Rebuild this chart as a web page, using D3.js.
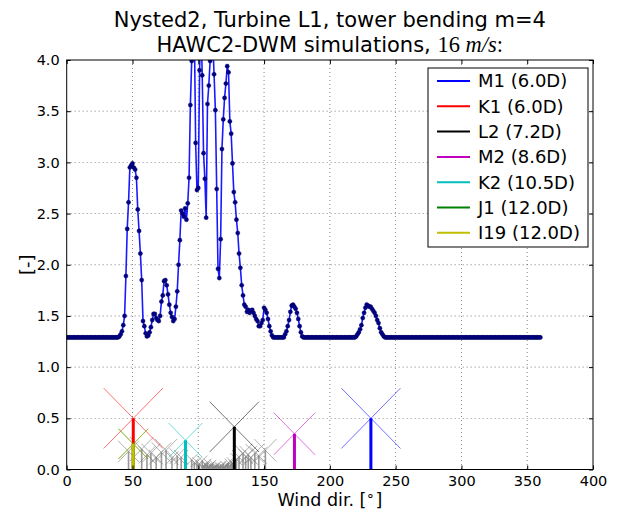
<!DOCTYPE html>
<html><head><meta charset="utf-8">
<script src="https://cdn.jsdelivr.net/npm/d3@7"></script>
<style>body{margin:0;background:#fff}svg{display:block}</style>
</head><body>
<svg id="chart" width="624" height="510"></svg>
<script>
// ---- data ----
const titleLine1 = "Nysted2, Turbine L1, tower bending m=4";
const xLabel = "Wind dir. [";
const yLabel = "[-]";
const xTicks = [0, 50, 100, 150, 200, 250, 300, 350, 400];
const yTicks = [0.0, 0.5, 1.0, 1.5, 2.0, 2.5, 3.0, 3.5, 4.0];
const dirStart = 0, dirStep = 1;
// tower bending load per wind direction (1 deg steps, 0..360)
const loadValues = [
 1.29,1.29,1.29,1.29,1.29,1.29,1.29,1.29,1.29,1.29, // 0
 1.29,1.29,1.29,1.29,1.29,1.29,1.29,1.29,1.29,1.29, // 10
 1.29,1.29,1.29,1.29,1.29,1.29,1.29,1.29,1.29,1.29, // 20
 1.29,1.29,1.29,1.29,1.29,1.29,1.29,1.29,1.29,1.29, // 30
 1.30,1.32,1.35,1.41,1.50,1.89,2.35,2.61,2.95,2.97, // 40
 2.99,2.95,2.93,2.85,2.54,2.33,2.11,1.85,1.45,1.40, // 50
 1.33,1.30,1.31,1.34,1.39,1.46,1.52,1.52,1.48,1.46, // 60
 1.45,1.50,1.64,1.70,1.84,1.85,1.80,1.71,1.61,1.53, // 70
 1.49,1.45,1.47,1.59,1.74,2.00,2.24,2.53,2.50,2.47, // 80
 2.55,2.44,2.60,2.85,3.56,3.99,4.60,4.30,3.19,2.73, // 90
 2.75,3.90,4.40,3.85,3.09,2.84,2.46,3.57,3.75,3.99, // 100
 4.60,4.20,3.86,3.51,2.74,1.96,1.87,2.25,3.13,3.42, // 110
 3.63,3.77,3.94,3.88,3.40,3.28,2.99,2.71,2.61,2.44, // 120
 2.31,2.11,1.97,1.80,1.70,1.61,1.59,1.54,1.56,1.53, // 130
 1.55,1.56,1.53,1.50,1.47,1.45,1.40,1.40,1.43,1.46, // 140
 1.58,1.56,1.53,1.47,1.40,1.35,1.31,1.29,1.29,1.29, // 150
 1.29,1.29,1.29,1.29,1.29,1.29,1.32,1.35,1.40,1.46, // 160
 1.54,1.60,1.61,1.59,1.57,1.53,1.47,1.40,1.34,1.30, // 170
 1.29,1.29,1.29,1.29,1.29,1.29,1.29,1.29,1.29,1.29, // 180
 1.29,1.29,1.29,1.29,1.29,1.29,1.29,1.29,1.29,1.29, // 190
 1.29,1.29,1.29,1.29,1.29,1.29,1.29,1.29,1.29,1.29, // 200
 1.29,1.29,1.29,1.29,1.29,1.29,1.29,1.29,1.29,1.29, // 210
 1.30,1.32,1.34,1.37,1.41,1.48,1.53,1.58,1.61,1.60, // 220
 1.59,1.59,1.57,1.55,1.53,1.50,1.46,1.43,1.38,1.34, // 230
 1.32,1.30,1.29,1.29,1.29,1.29,1.29,1.29,1.29,1.29, // 240
 1.29,1.29,1.29,1.29,1.29,1.29,1.29,1.29,1.29,1.29, // 250
 1.29,1.29,1.29,1.29,1.29,1.29,1.29,1.29,1.29,1.29, // 260
 1.29,1.29,1.29,1.29,1.29,1.29,1.29,1.29,1.29,1.29, // 270
 1.29,1.29,1.29,1.29,1.29,1.29,1.29,1.29,1.29,1.29, // 280
 1.29,1.29,1.29,1.29,1.29,1.29,1.29,1.29,1.29,1.29, // 290
 1.29,1.29,1.29,1.29,1.29,1.29,1.29,1.29,1.29,1.29, // 300
 1.29,1.29,1.29,1.29,1.29,1.29,1.29,1.29,1.29,1.29, // 310
 1.29,1.29,1.29,1.29,1.29,1.29,1.29,1.29,1.29,1.29, // 320
 1.29,1.29,1.29,1.29,1.29,1.29,1.29,1.29,1.29,1.29, // 330
 1.29,1.29,1.29,1.29,1.29,1.29,1.29,1.29,1.29,1.29, // 340
 1.29,1.29,1.29,1.29,1.29,1.29,1.29,1.29,1.29,1.29, // 350
 1.29                                                // 360
];
// upstream turbines (legend)
const turbNames  = ["M1", "K1", "L2", "M2", "K2", "J1", "I19"];
const turbDists  = [6.0, 6.0, 7.2, 8.6, 10.5, 12.0, 12.0];
const turbDirs   = [231.2, 50.6, 127.4, 173.1, 90.3, 50.6, 50.6];
const turbColors = ["#0000ff", "#ff0000", "#000000", "#bf00bf", "#00bfbf", "#008000", "#bfbf00"];
// other (far) turbines in grey
const greyDirs  = [47, 57, 61, 64, 68, 72, 75.5, 80, 84, 87, 95, 97, 99, 101, 103, 104, 105, 106, 107, 108, 109, 110, 111, 112, 113, 114, 115, 116, 117, 118, 119, 120, 121, 122, 123, 124, 125, 126, 129, 131, 134, 136, 138, 140, 143, 146, 151];
const greyDists = [17, 15, 21, 19, 25, 18, 16, 27, 23, 25, 32, 45, 40, 55, 35, 80, 60, 70, 45, 95, 75, 60, 50, 110, 90, 70, 65, 100, 80, 85, 55, 120, 70, 60, 45, 90, 40, 50, 30, 25, 19, 24, 21, 26, 19, 22, 16];

// ---- layout ----
const svg = d3.select("#chart");
const L = 66.7, R = 593, T = 60, B = 469.5;
const x = d3.scaleLinear().domain([0, 400]).range([L, R]);
const y = d3.scaleLinear().domain([0, 4]).range([B, T]);
const font = "'DejaVu Sans', sans-serif";

svg.append("defs").append("clipPath").attr("id", "clip")
  .append("rect").attr("x", L).attr("y", T).attr("width", R - L).attr("height", B - T);

// grid
const grid = svg.append("g");
xTicks.slice(1, -1).forEach(t => grid.append("line")
  .attr("x1", x(t)).attr("x2", x(t)).attr("y1", T).attr("y2", B)
  .attr("stroke", "#000").attr("stroke-width", 0.6).attr("stroke-dasharray", "1,3").attr("opacity", 0.8));
yTicks.slice(1, -1).forEach(t => grid.append("line")
  .attr("x1", L).attr("x2", R).attr("y1", y(t)).attr("y2", y(t))
  .attr("stroke", "#000").attr("stroke-width", 0.6).attr("stroke-dasharray", "1,3").attr("opacity", 0.8));

const plot = svg.append("g").attr("clip-path", "url(#clip)");

// turbines
function drawTurbine(g, dir, dist, color, towerW, xOpacity, towerOpacity) {
  const hub = 3 / dist;            // hub height in load units
  const ax = 45 * hub, ay = 0.59 * hub;
  g.append("line").attr("x1", x(dir - ax)).attr("y1", y(hub + ay)).attr("x2", x(dir + ax)).attr("y2", y(hub - ay))
    .attr("stroke", color).attr("stroke-width", 1).attr("opacity", xOpacity);
  g.append("line").attr("x1", x(dir - ax)).attr("y1", y(hub - ay)).attr("x2", x(dir + ax)).attr("y2", y(hub + ay))
    .attr("stroke", color).attr("stroke-width", 1).attr("opacity", xOpacity);
  g.append("line").attr("x1", x(dir)).attr("y1", y(0)).attr("x2", x(dir)).attr("y2", y(hub))
    .attr("stroke", color).attr("stroke-width", towerW).attr("opacity", towerOpacity);
}
const tg = plot.append("g");
greyDirs.forEach((d, i) => drawTurbine(tg, d, greyDists[i], "#808080", 1.6, 0.6, 0.8));
turbDirs.forEach((d, i) => drawTurbine(tg, d, turbDists[i], turbColors[i], 3, 0.55, 1));

// curve
const pts = loadValues.map((v, i) => [dirStart + i * dirStep, v]);
plot.append("path").datum(pts)
  .attr("d", d3.line().x(d => x(d[0])).y(d => y(d[1])))
  .attr("fill", "none").attr("stroke", "#0000ff").attr("stroke-width", 1.6).attr("opacity", 0.9);
plot.append("g").selectAll("circle").data(pts).join("circle")
  .attr("cx", d => x(d[0])).attr("cy", d => y(d[1])).attr("r", 2.1)
  .attr("fill", "#00008b").attr("stroke", "#000050").attr("stroke-width", 0.4);

// axes (inward ticks all around)
function styleAxis(g) {
  g.selectAll(".domain").remove();
  g.selectAll("text").attr("font-family", font).attr("font-size", 14.5).attr("fill", "#000");
  g.selectAll("line").attr("stroke", "#000");
}
svg.append("g").attr("transform", `translate(0,${B})`)
  .call(d3.axisBottom(x).tickValues(xTicks).tickFormat(d3.format("d")).tickSizeInner(-4).tickSizeOuter(0).tickPadding(6))
  .call(styleAxis);
svg.append("g").attr("transform", `translate(0,${T})`)
  .call(d3.axisTop(x).tickValues(xTicks).tickFormat("").tickSizeInner(-4).tickSizeOuter(0))
  .call(styleAxis);
svg.append("g").attr("transform", `translate(${L},0)`)
  .call(d3.axisLeft(y).tickValues(yTicks).tickFormat(d3.format(".1f")).tickSizeInner(-4).tickSizeOuter(0).tickPadding(7))
  .call(styleAxis);
svg.append("g").attr("transform", `translate(${R},0)`)
  .call(d3.axisRight(y).tickValues(yTicks).tickFormat("").tickSizeInner(-4).tickSizeOuter(0))
  .call(styleAxis);
svg.append("rect").attr("x", L).attr("y", T).attr("width", R - L).attr("height", B - T)
  .attr("fill", "none").attr("stroke", "#000").attr("stroke-width", 1);

// titles
const cx = (L + R) / 2;
svg.append("text").attr("x", cx).attr("y", 26.5).attr("text-anchor", "middle")
  .attr("font-family", font).attr("font-size", 21).text(titleLine1);
const t2 = svg.append("text").attr("x", cx).attr("y", 51.5).attr("text-anchor", "middle")
  .attr("font-family", font).attr("font-size", 21);
t2.append("tspan").text("HAWC2-DWM simulations, ");
t2.append("tspan").attr("font-family", "'Liberation Serif', serif").attr("font-size", 22.5).text("16 ");
t2.append("tspan").attr("font-family", "'Liberation Serif', serif").attr("font-style", "italic").attr("font-size", 22.5).text("m/s");
t2.append("tspan").attr("font-family", "'Liberation Serif', serif").attr("font-size", 22.5).text(":");

// axis labels
const xl = svg.append("text").attr("x", cx).attr("y", 506).attr("text-anchor", "middle")
  .attr("font-family", font).attr("font-size", 17.5);
xl.append("tspan").text(xLabel);
xl.append("tspan").attr("font-family", "'Liberation Serif', serif").attr("font-size", 14).attr("dy", -6).text("\u2218");
xl.append("tspan").attr("dy", 6).text("]");
svg.append("text").attr("transform", `translate(33,${(T + B) / 2}) rotate(-90)`).attr("text-anchor", "middle")
  .attr("font-family", font).attr("font-size", 18).text(yLabel);

// legend
const lg = svg.append("g");
lg.append("rect").attr("x", 428).attr("y", 68).attr("width", 160).attr("height", 179)
  .attr("fill", "#fff").attr("stroke", "#000").attr("stroke-width", 1);
turbNames.forEach((n, i) => {
  const yy = 81 + i * 25.3;
  lg.append("line").attr("x1", 437).attr("x2", 470).attr("y1", yy).attr("y2", yy)
    .attr("stroke", turbColors[i]).attr("stroke-width", 2);
  lg.append("text").attr("x", 478).attr("y", yy).attr("dy", "0.36em")
    .attr("font-family", font).attr("font-size", 18).text(`${n} (${turbDists[i].toFixed(1)}D)`);
});
</script>
</body></html>
